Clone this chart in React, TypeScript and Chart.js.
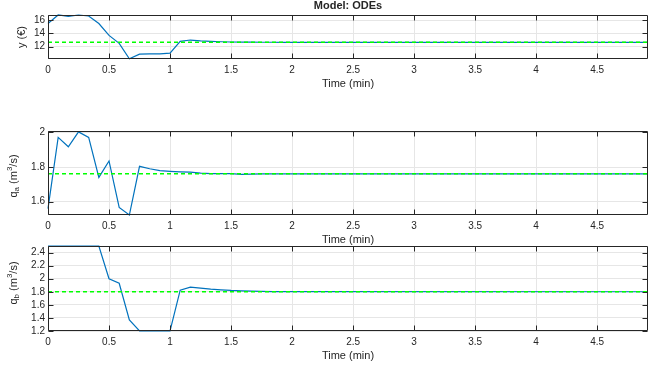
import React, { useEffect, useRef } from 'react';
import { Chart, registerables } from 'chart.js';

Chart.register(...registerables);

// ---------- data ----------
const TIME = [0, 0.0833, 0.1667, 0.25, 0.3333, 0.4167, 0.5, 0.5833, 0.6667, 0.75, 0.8333, 0.9167, 1, 1.0833, 1.1667, 1.25, 1.3333, 1.4167, 1.5, 1.5833, 1.6667, 1.75, 1.8333, 1.9167, 2, 4.9167];
const Y_VALUES = [15.5, 16.8, 16.6, 16.8, 16.65, 15.5, 13.7, 12.5, 10.15, 10.85, 10.9, 10.9, 11.0, 12.8, 13.0, 12.88, 12.8, 12.74, 12.7, 12.68, 12.67, 12.66, 12.66, 12.65, 12.65, 12.65];
const QA_VALUES = [1.56, 1.971, 1.917, 2.003, 1.971, 1.74, 1.835, 1.567, 1.523, 1.804, 1.79, 1.779, 1.775, 1.772, 1.77, 1.765, 1.762, 1.762, 1.762, 1.757, 1.759, 1.76, 1.761, 1.761, 1.761, 1.761];
const QB_VALUES = [2.5, 2.5, 2.5, 2.5, 2.5, 2.5, 2.0, 1.93, 1.37, 1.2, 1.2, 1.2, 1.2, 1.825, 1.87, 1.855, 1.84, 1.83, 1.82, 1.815, 1.81, 1.806, 1.803, 1.802, 1.801, 1.8];

const SET_TIME = [0, 4.9167];
const Y_SET = [12.65, 12.65];
const QA_SET = [1.761, 1.761];
const QB_SET = [1.8, 1.8];

const X_TICKS = [0, 0.5, 1, 1.5, 2, 2.5, 3, 3.5, 4, 4.5];
const X_RANGE = [0, 4.9167];
const Y_TICKS = [12, 14, 16];
const Y_RANGE = [10.12, 16.8];
const QA_TICKS = [1.6, 1.8, 2];
const QA_RANGE = [1.523, 2.008];
const QB_TICKS = [1.2, 1.4, 1.6, 1.8, 2, 2.2, 2.4];
const QB_RANGE = [1.2, 2.5];

const TITLE = 'Model: ODEs';
const X_LABEL = 'Time (min)';

// ---------- style ----------
const W = 662;
const H = 370;
const FONT = '"Liberation Sans", Arial, Helvetica, sans-serif';
const TEXT = '#262626';
const BLUE = '#0072BD';
const GREEN = '#00ff00';
const GRID = '#e6e6e6';

type Seg = { s: string; t?: 'sub' | 'sup' };

interface PanelCfg {
  top: number;
  bottom: number;
  values: number[];
  setpoint: number[];
  ticks: number[];
  range: number[];
  ylabel: Seg[];
  ylabelX: number;
  ylabelY: number;
  title?: string;
}

const PANELS: PanelCfg[] = [
  {
    top: 15, bottom: 59, values: Y_VALUES, setpoint: Y_SET, ticks: Y_TICKS, range: Y_RANGE,
    ylabel: [{ s: 'y (€)' }], ylabelX: 22, ylabelY: 37, title: TITLE,
  },
  {
    top: 131, bottom: 215, values: QA_VALUES, setpoint: QA_SET, ticks: QA_TICKS, range: QA_RANGE,
    ylabel: [{ s: 'q' }, { s: 'a', t: 'sub' }, { s: ' (m' }, { s: '3', t: 'sup' }, { s: '/s)' }],
    ylabelX: 14, ylabelY: 176,
  },
  {
    top: 246, bottom: 331, values: QB_VALUES, setpoint: QB_SET, ticks: QB_TICKS, range: QB_RANGE,
    ylabel: [{ s: 'q' }, { s: 'b', t: 'sub' }, { s: ' (m' }, { s: '3', t: 'sup' }, { s: '/s)' }],
    ylabelX: 14, ylabelY: 283,
  },
];

const LEFT = 48;
const RIGHT = 648;
const X_AXIS_H = 20;

function drawRich(ctx: CanvasRenderingContext2D, segs: Seg[], cx: number, cy: number) {
  ctx.save();
  ctx.translate(cx, cy);
  ctx.rotate(-Math.PI / 2);
  ctx.textBaseline = 'middle';
  ctx.textAlign = 'left';
  const fontFor = (seg: Seg) => (seg.t ? `8px ${FONT}` : `11px ${FONT}`);
  let total = 0;
  const widths = segs.map((seg) => {
    ctx.font = fontFor(seg);
    const w = ctx.measureText(seg.s).width;
    total += w;
    return w;
  });
  let x = -total / 2;
  segs.forEach((seg, i) => {
    ctx.font = fontFor(seg);
    const dy = seg.t === 'sub' ? 3 : seg.t === 'sup' ? -4 : 0;
    ctx.fillStyle = TEXT;
    ctx.fillText(seg.s, x, dy);
    x += widths[i];
  });
  ctx.restore();
}

const matlabPlugin = {
  id: 'matlab',
  afterDraw(chart: any, _args: any, opts: any) {
    const { ctx, chartArea: a, scales } = chart;
    const cfg: PanelCfg = opts.cfg;
    ctx.save();
    const L = Math.round(a.left) + 0.5;
    const R = Math.round(a.right) - 0.5;
    const T = Math.round(a.top) + 0.5;
    const B = Math.round(a.bottom) - 0.5;
    ctx.strokeStyle = TEXT;
    ctx.lineWidth = 1;
    ctx.beginPath();
    ctx.rect(L, T, R - L, B - T);
    const tl = 5;
    X_TICKS.forEach((v) => {
      const px = Math.round(scales.x.getPixelForValue(v)) + 0.5;
      ctx.moveTo(px, B);
      ctx.lineTo(px, B - tl);
      ctx.moveTo(px, T);
      ctx.lineTo(px, T + tl);
    });
    cfg.ticks.forEach((v) => {
      const py = Math.round(scales.y.getPixelForValue(v)) + 0.5;
      ctx.moveTo(L, py);
      ctx.lineTo(L + tl, py);
      ctx.moveTo(R, py);
      ctx.lineTo(R - tl, py);
    });
    ctx.stroke();

    // x axis title
    ctx.fillStyle = TEXT;
    ctx.font = `11px ${FONT}`;
    ctx.textAlign = 'center';
    ctx.textBaseline = 'middle';
    ctx.fillText(X_LABEL, (a.left + a.right) / 2, a.bottom + 25);

    if (cfg.title) {
      ctx.font = `bold 11px ${FONT}`;
      ctx.fillText(cfg.title, (a.left + a.right) / 2, 6);
    }
    ctx.restore();
    drawRich(ctx, cfg.ylabel, cfg.ylabelX, cfg.ylabelY);
  },
  afterDatasetsDraw(chart: any) {
    // redraw nothing; placeholder to keep order (datasets under box)
    return;
  },
};

function Panel({ cfg }: { cfg: PanelCfg }) {
  const ref = useRef<HTMLCanvasElement>(null);
  useEffect(() => {
    if (!ref.current) return;
    const chart = new Chart(ref.current, {
      type: 'line',
      data: {
        datasets: [
          {
            data: SET_TIME.map((t, i) => ({ x: t, y: cfg.setpoint[i] })),
            borderColor: GREEN,
            borderWidth: 1.5,
            borderDash: [4, 3],
            pointRadius: 0,
            order: 0,
            clip: 2,
          },
          {
            data: TIME.map((t, i) => ({ x: t, y: cfg.values[i] })),
            borderColor: BLUE,
            borderWidth: 1.2,
            pointRadius: 0,
            tension: 0,
            order: 1,
            clip: 2,
          },
        ],
      },
      options: {
        responsive: false,
        animation: false,
        events: [],
        layout: {
          padding: { left: 0, right: W - RIGHT, top: cfg.top, bottom: H - cfg.bottom - X_AXIS_H },
        },
        plugins: {
          legend: { display: false },
          tooltip: { enabled: false },
          matlab: { cfg },
        } as any,
        scales: {
          x: {
            type: 'linear',
            min: X_RANGE[0],
            max: X_RANGE[1],
            afterBuildTicks: (axis: any) => {
              axis.ticks = X_TICKS.map((v) => ({ value: v }));
            },
            afterFit: (axis: any) => {
              axis.height = X_AXIS_H;
              axis.paddingLeft = 0;
              axis.paddingRight = 0;
            },
            ticks: {
              autoSkip: false,
              maxRotation: 0,
              padding: 5,
              color: TEXT,
              font: { family: FONT, size: 10 },
              callback: (v: any) => String(v),
            },
            grid: { color: GRID, drawTicks: false },
            border: { display: false },
          },
          y: {
            type: 'linear',
            min: cfg.range[0],
            max: cfg.range[1],
            afterBuildTicks: (axis: any) => {
              axis.ticks = cfg.ticks.map((v) => ({ value: v }));
            },
            afterFit: (axis: any) => {
              axis.width = LEFT;
              axis.paddingTop = 0;
              axis.paddingBottom = 0;
            },
            ticks: {
              autoSkip: false,
              padding: 3,
              color: TEXT,
              font: { family: FONT, size: 10 },
              callback: (v: any) => String(v),
            },
            grid: { color: GRID, drawTicks: false },
            border: { display: false },
          },
        },
      } as any,
      plugins: [matlabPlugin],
    });
    return () => chart.destroy();
  }, [cfg]);
  return (
    <canvas
      ref={ref}
      width={W}
      height={H}
      style={{ position: 'absolute', left: 0, top: 0, width: W, height: H }}
    />
  );
}

export default function App() {
  return (
    <div style={{ position: 'fixed', left: 0, top: 0, width: W, height: H, background: '#ffffff' }}>
      {PANELS.map((p, i) => (
        <Panel key={i} cfg={p} />
      ))}
    </div>
  );
}
